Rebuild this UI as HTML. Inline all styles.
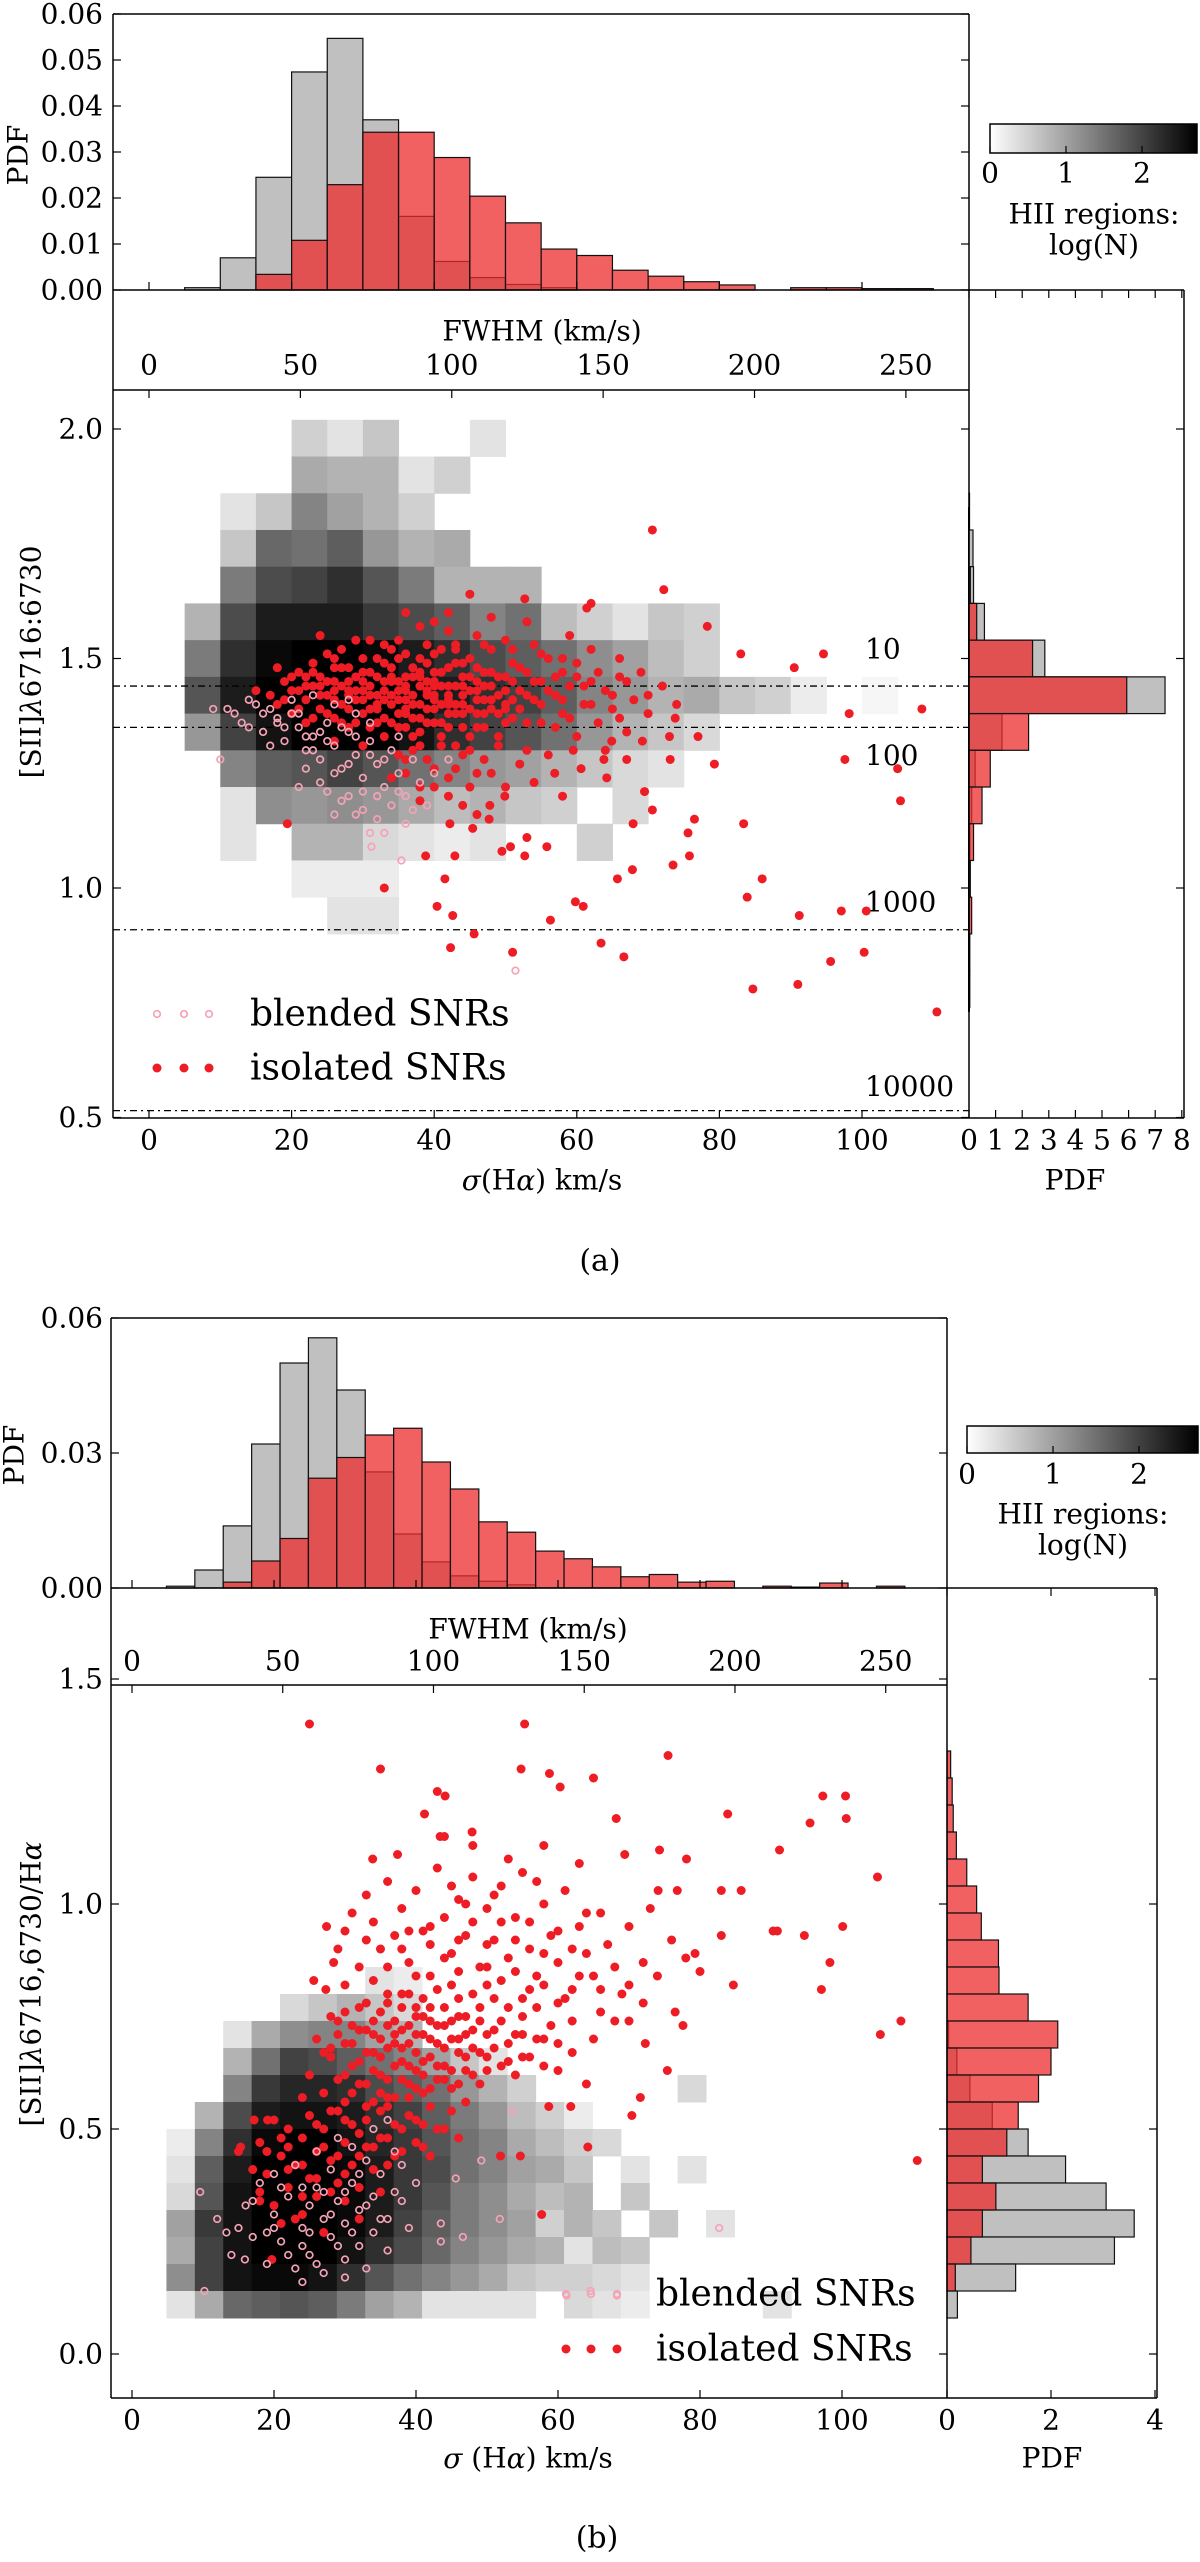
<!DOCTYPE html>
<html><head><meta charset="utf-8"><style>
html,body{margin:0;padding:0;background:#fff;}
svg text{font-family:"DejaVu Serif","Liberation Serif",serif;fill:#000;}
</style></head><body>
<svg id="fig" xmlns="http://www.w3.org/2000/svg" width="1200" height="2557" viewBox="0 0 1200 2557">
<defs><linearGradient id="cb" x1="0" x2="1" y1="0" y2="0"><stop offset="0" stop-color="#fff"/><stop offset="1" stop-color="#000"/></linearGradient></defs>
<g id="pa"></g>
<g id="pb"></g>
</svg>
<script>
// ===== Panel (a) data =====
const aTopBinStart = 5, aTopBinW = 5;
const aTopGray = [0.0005,0.007,0.0245,0.0474,0.0547,0.037,0.016,0.0062,0.0027,0.0012,0.0005,0,0,0,0,0,0,0,0,0,0];
const aTopRed  = [0,0,0.0034,0.0108,0.0229,0.0343,0.0343,0.0288,0.0204,0.0146,0.0089,0.0075,0.0043,0.003,0.0018,0.0011,0,0.0005,0.0005,0.0003,0.0003];
const aRightTop = 2.02, aRightW = 0.08;
const aRightGray = [0,0,0.02,0.15,0.17,0.58,2.85,7.37,1.24,0.23,0.1,0.03,0.02,0.01,0.01,0.01];
const aRightRed  = [0,0,0,0,0.05,0.29,2.39,5.93,2.24,0.8,0.49,0.17,0.05,0.1,0.03,0.03];
const aHeatTop = 2.02, aHeatH = 0.08, aHeatX0 = 5, aHeatW = 5;
const aHeat = [
[0,0,0,.5,.3,.6,0,0,.3,0,0,0,0,0,0,0,0,0,0,0],
[0,0,0,.9,.8,.8,.3,.5,0,0,0,0,0,0,0,0,0,0,0,0],
[0,.3,.6,1.3,1.0,.8,.5,0,0,0,0,0,0,0,0,0,0,0,0,0],
[0,.6,1.6,1.5,1.7,1.1,.8,.9,0,0,0,0,0,0,0,0,0,0,0,0],
[0,1.4,1.9,2.0,2.2,1.8,1.4,.8,.8,.8,0,0,0,0,0,0,0,0,0,0],
[.8,1.9,2.4,2.4,2.4,2.1,1.9,1.7,1.3,1.5,.7,.5,.3,.6,.5,0,0,0,0,0],
[1.4,2.2,2.6,2.7,2.7,2.6,2.4,2.2,1.9,1.7,1.5,1.2,1.0,.7,.5,0,0,0,0,0],
[1.8,2.4,2.7,2.7,2.7,2.7,2.6,2.4,2.2,2.0,1.7,1.3,1.1,.8,.9,.6,.5,.2,0,.1],
[1.1,2.0,2.5,2.7,2.7,2.7,2.5,2.2,2.0,1.8,1.5,1.1,.8,.6,.4,0,0,0,0,0],
[0,1.3,1.7,1.8,2.0,1.8,1.5,1.3,1.1,1.0,.8,.6,.4,.3,0,0,0,0,0,0],
[0,.3,1.2,1.1,1.2,1.1,.9,.7,.8,.6,.5,0,.4,0,0,0,0,0,0,0],
[0,.3,0,.8,.8,.4,.3,.2,.3,0,0,.5,0,0,0,0,0,0,0,0],
[0,0,0,.2,.2,.2,0,0,0,0,0,0,0,0,0,0,0,0,0,0],
[0,0,0,0,.3,.3,0,0,0,0,0,0,0,0,0,0,0,0,0,0]];
const aLines = [1.44,1.35,0.909,0.515];
const aLineLabels = ["10","100","1000","10000"];
const aIsolatedOuter = [[70.6,1.78],[72.2,1.65],[52.7,1.63],[62,1.62],[61.4,1.61],[78.3,1.57],[83,1.51],[94.6,1.51],[90.5,1.48],[98.2,1.38],[108.4,1.39],[73.8,1.37],[73,1.33],[77,1.33],[79.3,1.27],[73.1,1.28],[97.6,1.28],[105,1.26],[105.4,1.19],[69.5,1.21],[70.6,1.17],[67.9,1.14],[76.5,1.15],[75.6,1.12],[83.4,1.14],[75.8,1.07],[73.5,1.05],[67.8,1.04],[65.7,1.02],[86,1.02],[83.9,0.98],[59.8,0.97],[60.9,0.96],[56.3,0.93],[63.4,0.88],[66.6,0.85],[91.2,0.94],[97.1,0.95],[100.6,0.95],[100.3,0.86],[95.6,0.84],[91,0.79],[84.7,0.78],[110.5,0.73],[51,0.86],[45.6,0.90],[42.3,0.87],[40.4,0.96],[42.6,0.94],[41.5,1.02],[38.8,1.07],[42.9,1.07],[33,1.0],[49.5,1.08],[52.7,1.07],[50.7,1.09],[53,1.11],[47.7,1.15],[45.4,1.13],[42.2,1.14],[19.4,1.14],[55.8,1.09],[56.9,1.25],[58,1.20],[60.6,1.26],[63.8,1.28],[54,1.23],[49.9,1.20],[47.8,1.18],[46,1.16],[59.5,1.30],[64.9,1.32],[67,1.28],[64.2,1.24],[69.2,1.32],
[17,1.42],[18,1.40],[19,1.45],[20,1.38],[21,1.47],[21,1.43],[22,1.41],[22,1.36],[23,1.49],[23,1.44],[24,1.39],[24,1.46],[25,1.42],[25,1.51],[26,1.37],[26,1.45],[27,1.40],[27,1.48],[28,1.43],[28,1.35],[29,1.46],[29,1.41],[30,1.50],[30,1.38],[31,1.44],[31,1.47],[32,1.42],[32,1.36],[33,1.49],[33,1.45],[34,1.40],[34,1.52],[35,1.43],[35,1.38],[36,1.46],[36,1.41],[37,1.48],[37,1.33],[38,1.44],[38,1.50],[39,1.39],[39,1.45],[40,1.42],[40,1.47],[41,1.36],[41,1.52],[42,1.44],[42,1.40],[43,1.49],[43,1.31],[44,1.46],[44,1.38],[45,1.43],[45,1.50],[46,1.41],[46,1.35],[47,1.47],[47,1.44],[48,1.39],[48,1.52],[49,1.42],[49,1.33],[50,1.46],[50,1.40],[51,1.49],[51,1.37],[52,1.43],[53,1.47],[53,1.30],[54,1.41],[55,1.45],[55,1.36],[56,1.50],[57,1.42],[58,1.38],[58,1.47],[59,1.44],[60,1.33],[60,1.49],[61,1.40],[62,1.45],[63,1.36],[64,1.43],[65,1.39],[66,1.46],[67,1.34],[68,1.41],[70,1.38],[72,1.44],[36,1.28],[40,1.26],[44,1.29],[48,1.25],[38,1.22],[42,1.20],[34,1.24],[30,1.31],[26,1.32],[46,1.55],[42,1.56],[38,1.57],[50,1.54],[54,1.53],[33,1.53],[29,1.54],[24,1.55],[35,1.35],[37,1.40],[39,1.42],[41,1.44],[43,1.38],[45,1.46],[31,1.39],[33,1.41],[28,1.45],[26,1.48],[57,1.35],[62,1.52],[59,1.55],[56,1.29],[52,1.27],[64,1.30],[66,1.50],[69,1.47],[45,1.22],[38,1.19],[50,1.22],[35,1.45],[40,1.39],[44,1.42],[47,1.38],[30,1.45],[36,1.51],[22,1.46],[20,1.43],[15,1.43],[18,1.48],[42,1.60],[40,1.58],[36,1.60],[45,1.64],[53,1.58],[48,1.59]];
const aIsolatedCore = [[19,1.41],[20,1.46],[21,1.39],[22,1.44],[23,1.37],[23,1.47],[24,1.42],[25,1.45],[25,1.38],[26,1.43],[26,1.50],[27,1.36],[27,1.44],[28,1.39],[28,1.48],[29,1.43],[29,1.36],[30,1.41],[30,1.47],[31,1.42],[31,1.35],[32,1.46],[32,1.39],[32,1.50],[33,1.43],[33,1.37],[34,1.45],[34,1.36],[34,1.48],[35,1.41],[35,1.50],[36,1.38],[36,1.44],[36,1.35],[37,1.42],[37,1.46],[37,1.37],[38,1.40],[38,1.47],[38,1.34],[39,1.43],[39,1.49],[39,1.36],[40,1.44],[40,1.36],[40,1.51],[41,1.40],[41,1.47],[41,1.33],[42,1.42],[42,1.48],[42,1.35],[43,1.44],[43,1.40],[43,1.53],[44,1.35],[44,1.49],[45,1.39],[45,1.33],[46,1.45],[46,1.48],[47,1.41],[47,1.35],[48,1.44],[48,1.47],[49,1.38],[49,1.46],[50,1.43],[50,1.36],[51,1.41],[51,1.45],[52,1.39],[52,1.48],[53,1.42],[53,1.36],[54,1.45],[55,1.40],[56,1.43],[57,1.46],[58,1.41],[59,1.37],[61,1.44],[63,1.47],[65,1.42],[67,1.45],[37,1.30],[39,1.28],[41,1.31],[43,1.26],[45,1.30],[47,1.28],[49,1.31],[40,1.22],[42,1.24],[44,1.18],[46,1.25],[36,1.25],[38,1.31],[35,1.29],[33,1.33],[34,1.46],[36,1.43],[38,1.46],[40,1.45],[42,1.41],[44,1.44],[46,1.43],[30,1.43],[28,1.42],[26,1.41],[24,1.44],[27,1.52],[31,1.54],[35,1.54],[39,1.53],[43,1.52],[47,1.53],[51,1.52],[55,1.51],[58,1.50],[60,1.46],[62,1.40],[66,1.37],[70,1.42],[74,1.40],[32,1.40],[34,1.42],[36,1.39],[38,1.37],[40,1.41],[42,1.38],[44,1.40],[46,1.38],[48,1.41],[50,1.39]];
const aIsolated = aIsolatedOuter.concat(aIsolatedCore);
const aBlendedMain = [[9,1.39],[11,1.39],[12,1.38],[13,1.36],[14,1.35],[15,1.40],[16,1.34],[17,1.31],[18,1.37],[19,1.32],[20,1.38],[21,1.35],[22,1.30],[23,1.33],[24,1.28],[25,1.36],[26,1.31],[27,1.26],[28,1.34],[29,1.29],[30,1.24],[31,1.32],[32,1.27],[33,1.22],[34,1.30],[35,1.25],[36,1.20],[37,1.28],[38,1.23],[39,1.18],[25,1.21],[27,1.19],[30,1.17],[32,1.15],[34,1.18],[26,1.40],[29,1.38],[23,1.42],[20,1.41],[17,1.39],[28,1.41],[31,1.36],[24,1.34],[22,1.26],[21,1.22],[26,1.16],[28,1.20],[35,1.33],[18,1.36],[10,1.28],[36,1.14],[33,1.12],[42,1.28],[40,1.25],[51.4,0.82],[31.2,1.09],[35.4,1.06]];
const aBlendedCore = [[14,1.41],[16,1.38],[19,1.35],[21,1.38],[23,1.30],[25,1.32],[27,1.35],[29,1.33],[31,1.29],[33,1.28],[26,1.25],[28,1.27],[30,1.21],[24,1.23],[22,1.33],[32,1.20],[35,1.21],[37,1.17],[29,1.16],[31,1.12]];
const aBlended = aBlendedMain.concat(aBlendedCore);
const aXTicks = [0,20,40,60,80,100];
const aYTicks = [0.5,1.0,1.5,2.0];
const aYTickLabels = ["0.5","1.0","1.5","2.0"];
const aFTicks = [0,50,100,150,200,250];
const aPTicks = [0,0.01,0.02,0.03,0.04,0.05,0.06];
const aPTickLabels = ["0.00","0.01","0.02","0.03","0.04","0.05","0.06"];
const aRTicks = [0,1,2,3,4,5,6,7,8];

// ===== Panel (b) data =====
const bTopBinStart = 4.85, bTopBinW = 4;
const bTopGray = [0.0004,0.004,0.0138,0.032,0.05,0.0556,0.044,0.0258,0.012,0.0058,0.0027,0.0015,0.0007,0,0,0,0,0,0,0,0,0,0,0,0,0];
const bTopRed  = [0,0,0.0013,0.006,0.011,0.0244,0.029,0.034,0.0355,0.028,0.022,0.0147,0.0124,0.0082,0.0065,0.0047,0.0025,0.003,0.0013,0.0015,0,0.0004,0.0002,0.0011,0,0.0004];
const bRightTop = 1.34, bRightW = 0.06;
const bRightGray = [0,0,0,0,0,0,0,0,0,0,0.03,0.19,0.44,0.87,1.56,2.28,3.06,3.6,3.22,1.32,0.2];
const bRightRed  = [0.07,0.1,0.12,0.18,0.38,0.57,0.66,0.99,1.0,1.56,2.13,2.0,1.76,1.37,1.15,0.68,0.94,0.68,0.46,0.16,0];
const bHeatTop = 0.86, bHeatH = 0.06, bHeatX0 = 4.85, bHeatW = 4;
const bHeat = [
[0,0,0,0,0,0,0,.3,.2,0,0,0,0,0,0,0,0,0,0,0,0,0],
[0,0,0,0,.4,.6,.8,.6,.4,0,0,0,0,0,0,0,0,0,0,0,0,0],
[0,0,.3,.9,1.2,1.3,1.3,1.0,.8,0,0,0,0,0,0,0,0,0,0,0,0,0],
[0,0,.8,1.5,2.0,1.9,1.7,1.5,1.3,1.0,.6,.3,0,0,0,0,0,0,0,0,0,0],
[0,0,1.3,2.1,2.3,2.3,2.2,1.9,1.7,1.5,1.1,.8,.5,0,0,0,0,0,.4,0,0,0],
[0,.8,1.9,2.4,2.5,2.5,2.4,2.2,2.0,1.7,1.4,1.1,.7,.5,.2,0,0,0,0,0,0,0],
[.2,1.3,2.2,2.6,2.7,2.7,2.5,2.3,2.1,1.8,1.5,1.3,.9,.7,.5,.4,0,0,0,0,0,0],
[.3,1.7,2.4,2.7,2.7,2.7,2.6,2.4,2.1,1.9,1.5,1.3,1.0,.9,.6,0,.3,0,.3,0,0,0],
[.4,1.8,2.5,2.7,2.7,2.7,2.6,2.4,2.1,1.8,1.4,1.2,.9,.7,.8,0,.6,0,0,0,0,0],
[1.0,2.1,2.5,2.7,2.7,2.7,2.6,2.4,2.0,1.7,1.4,1.2,1.0,.5,.8,.6,0,.6,0,.3,0,0],
[.9,2.0,2.5,2.7,2.7,2.7,2.5,2.2,1.9,1.6,1.3,1.1,.9,.8,.3,.7,.6,0,0,0,0,0],
[1.2,2.0,2.5,2.6,2.6,2.5,2.2,1.8,1.5,1.3,1.1,.9,.6,.5,.5,.4,.3,0,0,0,0,0],
[.3,.9,1.6,1.7,1.8,1.7,1.4,1.0,.8,.3,.3,.3,.3,0,.4,.3,.2,0,0,0,0,.3]];
const bIsolatedMain = [[25,1.40],[55.3,1.40],[75.5,1.33],[35,1.30],[54.8,1.30],[58.8,1.29],[65,1.28],[60.3,1.26],[43,1.25],[44.1,1.24],[97.3,1.24],[100.5,1.24],[100.6,1.19],[83.9,1.20],[68.2,1.19],[41.2,1.20],[95.5,1.18],[43.4,1.15],[47.9,1.16],[91.2,1.12],[74.3,1.12],[78.1,1.10],[69.4,1.11],[33.9,1.10],[37.4,1.11],[105,1.06],[85.8,1.03],[74.1,1.03],[76.8,1.03],[83,1.03],[90.3,0.94],[90.9,0.94],[94.7,0.93],[100.1,0.95],[83,0.93],[79.3,0.89],[98.3,0.87],[97.1,0.81],[84.7,0.82],[76.5,0.76],[108.3,0.74],[105.4,0.71],[77.6,0.73],[72.3,0.69],[75.4,0.63],[71.6,0.57],[70.4,0.53],[64.2,0.46],[110.6,0.43],[57.7,0.31],[51.9,0.44],[54.7,0.44],[58.7,0.55],[61.8,0.55],[27.4,0.95],[30,0.94],[28.4,0.87],[25.6,0.83],[27.3,0.81],[17.2,0.52],[19.1,0.52],[15.3,0.46],[15,0.45],[18,0.34],[19.7,0.21],
[31,0.98],[33,1.02],[34,0.96],[35,0.90],[36,1.05],[37,0.93],[38,0.99],[39,0.87],[40,1.03],[41,0.94],[42,0.91],[43,1.08],[44,0.97],[45,0.89],[46,1.01],[47,0.93],[48,1.06],[49,0.86],[50,0.99],[51,0.92],[52,1.04],[53,0.88],[54,0.97],[55,1.07],[56,0.90],[57,0.84],[58,1.00],[59,0.93],[60,0.87],[61,1.03],[62,0.81],[63,0.95],[64,0.89],[65,0.84],[66,0.98],[67,0.91],[68,0.86],[69,0.80],[70,0.95],[72,0.87],[73,0.99],[74,0.84],[76,0.92],[78,0.88],[80,0.85],[53,1.10],[48,1.13],[44,1.15],[58,1.13],[63,1.09],[50,0.82],[46,0.85],[42,0.84],[38,0.80],[34,0.83],[55,0.79],[60,0.78],[66,0.76],[70,0.74],[32,0.86],[30,0.82],[29,0.90],[36,0.78],[40,0.77],
[25,0.62],[26,0.70],[27,0.58],[28,0.66],[28,0.75],[29,0.61],[30,0.69],[30,0.56],[31,0.73],[31,0.64],[32,0.60],[32,0.77],[33,0.67],[33,0.55],[34,0.71],[34,0.63],[35,0.58],[35,0.76],[36,0.68],[36,0.61],[37,0.74],[37,0.57],[38,0.65],[38,0.72],[39,0.60],[39,0.69],[40,0.75],[40,0.63],[41,0.58],[41,0.71],[42,0.66],[42,0.74],[43,0.61],[43,0.69],[44,0.73],[44,0.64],[45,0.70],[45,0.59],[46,0.67],[46,0.75],[47,0.63],[47,0.71],[48,0.68],[49,0.60],[49,0.74],[50,0.66],[51,0.72],[52,0.64],[53,0.69],[54,0.62],[55,0.71],[56,0.66],[58,0.70],[60,0.63],[62,0.67],[64,0.60],[35,0.66],[37,0.69],[39,0.73],[41,0.65],[33,0.72],[29,0.71],[27,0.67],[24,0.57],
[18,0.47],[19,0.40],[20,0.52],[21,0.44],[22,0.37],[22,0.50],[23,0.42],[24,0.48],[24,0.35],[25,0.53],[26,0.45],[26,0.39],[27,0.50],[28,0.43],[28,0.36],[29,0.54],[30,0.47],[30,0.40],[31,0.51],[32,0.44],[32,0.37],[33,0.52],[34,0.46],[34,0.41],[35,0.54],[36,0.48],[36,0.42],[37,0.51],[38,0.45],[39,0.53],[40,0.47],[41,0.51],[42,0.44],[44,0.50],[20,0.33],[23,0.30],[18,0.36],[21,0.29]];
const bIsolatedCore = [[28,0.68],[29,0.74],[30,0.62],[30,0.76],[31,0.58],[31,0.69],[32,0.65],[32,0.72],[33,0.60],[33,0.78],[34,0.67],[34,0.74],[35,0.62],[35,0.70],[36,0.57],[36,0.73],[36,0.80],[37,0.64],[37,0.71],[38,0.61],[38,0.68],[38,0.77],[39,0.64],[39,0.80],[40,0.59],[40,0.67],[40,0.71],[41,0.62],[41,0.75],[41,0.79],[42,0.59],[42,0.70],[42,0.77],[43,0.64],[43,0.73],[43,0.81],[44,0.61],[44,0.68],[44,0.77],[45,0.63],[45,0.74],[45,0.82],[46,0.60],[46,0.70],[46,0.79],[47,0.66],[47,0.75],[48,0.62],[48,0.72],[48,0.80],[49,0.67],[49,0.77],[50,0.63],[50,0.71],[50,0.86],[51,0.68],[51,0.79],[52,0.74],[52,0.83],[53,0.65],[53,0.77],[54,0.71],[54,0.85],[55,0.66],[55,0.75],[56,0.81],[57,0.70],[57,0.77],[58,0.64],[58,0.82],[59,0.73],[60,0.69],[61,0.79],[62,0.74],[63,0.84],[65,0.70],[66,0.81],[68,0.74],[70,0.82],[72,0.78],[36,0.86],[38,0.90],[40,0.84],[42,0.95],[44,0.88],[46,0.92],[48,0.96],[50,0.91],[52,0.96],[54,0.92],[56,0.96],[58,0.89],[60,0.94],[62,0.90],[64,0.98],[47,1.00],[51,1.02],[57,1.05],[45,1.04],[39,0.94],[33,0.92],[22,0.46],[24,0.42],[26,0.51],[27,0.46],[28,0.54],[29,0.44],[30,0.52],[31,0.42],[32,0.49],[33,0.46],[34,0.56],[35,0.48],[36,0.55],[37,0.44],[38,0.50],[39,0.57],[40,0.52],[41,0.46],[42,0.55],[43,0.50],[45,0.54],[46,0.48],[47,0.56],[25,0.39],[21,0.48],[19,0.45],[17,0.41],[22,0.41],[26,0.35],[30,0.34],[27,0.27],[24,0.31],[32,0.30],[29,0.38],[35,0.36]];
const bIsolated = bIsolatedMain.concat(bIsolatedCore);
const bBlendedMain = [[12,0.30],[14,0.22],[16,0.33],[17,0.26],[18,0.38],[19,0.20],[20,0.31],[21,0.25],[22,0.35],[23,0.19],[23,0.42],[24,0.28],[25,0.33],[25,0.22],[26,0.37],[27,0.30],[27,0.18],[28,0.41],[28,0.26],[29,0.34],[30,0.29],[30,0.21],[31,0.38],[32,0.32],[32,0.24],[33,0.43],[34,0.35],[34,0.27],[35,0.40],[36,0.30],[36,0.23],[37,0.45],[38,0.34],[39,0.28],[40,0.38],[26,0.45],[29,0.48],[31,0.46],[34,0.50],[36,0.52],[20,0.40],[24,0.16],[30,0.17],[33,0.19],[49.2,0.43],[51.8,0.30],[82.7,0.28],[61.2,0.13],[64.6,0.14],[68.3,0.13],[9.6,0.36],[10.2,0.14],[13.3,0.27],[15.9,0.21],[45.6,0.39],[43.5,0.25],[46.6,0.26],[43.5,0.29],[53.6,0.54]];
const bBlendedCore = [[15,0.28],[17,0.34],[19,0.27],[21,0.37],[22,0.22],[24,0.37],[25,0.27],[26,0.20],[27,0.36],[28,0.31],[29,0.24],[30,0.36],[31,0.27],[32,0.40],[33,0.33],[35,0.30],[37,0.36],[38,0.42],[24,0.24],[20,0.28]];
const bBlended = bBlendedMain.concat(bBlendedCore);
const bXTicks = [0,20,40,60,80,100];
const bYTicks = [0.0,0.5,1.0,1.5];
const bYTickLabels = ["0.0","0.5","1.0","1.5"];
const bFTicks = [0,50,100,150,200,250];
const bPTicks = [0,0.03,0.06];
const bPTickLabels = ["0.00","0.03","0.06"];
const bRTicks = [0,2,4];

const NS = "http://www.w3.org/2000/svg";
function mk(parent, tag, attrs, txt){
  const e = document.createElementNS(NS, tag);
  for (const k in attrs) e.setAttribute(k, attrs[k]);
  if (txt !== undefined) e.textContent = txt;
  parent.appendChild(e);
  return e;
}
function grayOf(v){ const g = Math.round(255*(1-Math.min(v,2.7)/2.7)); return `rgb(${g},${g},${g})`; }
const RED = "rgba(236,44,44,0.75)";

function panel(root, P){
  const {sx, sy, hy, rx, L, R, RR, hTop, hBot, mTop, mBot} = P;
  const hm = mk(root,'g',{});
  
  
  P.heat.forEach((row,r)=>{
    row.forEach((v,c)=>{
      if (v<=0) return;
      const x0 = sx(P.heatX0 + c*P.heatW), x1 = sx(P.heatX0 + (c+1)*P.heatW);
      const y0 = sy(P.heatTop - r*P.heatH), y1 = sy(P.heatTop - (r+1)*P.heatH);
      const cell = mk(hm,'rect',{x:x0,y:y0,width:x1-x0+0.5,height:y1-y0+0.5,fill:grayOf(v)});
      
      
    });
  });
  if (P.lines){
    P.lines.forEach((v,i)=>{
      const ln = mk(root,'line',{x1:L,x2:R,y1:sy(v),y2:sy(v),stroke:'#000','stroke-width':1.3,'stroke-dasharray':'7,4,2,4'});
      
      
      const t = mk(root,'text',{x:865,y:sy(v)+P.lineLabelDy[i],'font-size':28,'dominant-baseline':'central'},P.lineLabels[i]);
      
      
    });
  }
  const sg = mk(root,'g',{});
  
  
  P.iso.forEach(p=>{
    const c = mk(sg,'circle',{cx:sx(p[0]),cy:sy(p[1]),r:4.5,fill:'#ee1c24'});
    
    
  });
  const bg = mk(root,'g',{});
  
  
  P.bl.forEach(p=>{
    const c = mk(bg,'circle',{cx:sx(p[0]),cy:sy(p[1]),r:3.3,fill:'none',stroke:'#f5a3b5','stroke-width':1.7});
    
    
  });
  const th = mk(root,'g',{});
  
  
  [[P.topGray,'#c0c0c0'],[P.topRed,RED]].forEach(([arr,col])=>{
    arr.forEach((v,i)=>{
      if (v<=0) return;
      const x0 = sx(P.topStart+i*P.topW), x1 = sx(P.topStart+(i+1)*P.topW);
      const b = mk(th,'rect',{x:x0,y:hy(v),width:x1-x0,height:hBot-hy(v),fill:col,stroke:'#111','stroke-width':1.2});
      
      
    });
  });
  const rh = mk(root,'g',{});
  
  
  if (P.rLine) mk(rh,'line',{x1:RR.x0,x2:RR.x0,y1:sy(P.rLine[0]),y2:sy(P.rLine[1]),stroke:'#000','stroke-width':2});
  [[P.rGray,'#c0c0c0'],[P.rRed,RED]].forEach(([arr,col])=>{
    arr.forEach((v,i)=>{
      if (v<=0) return;
      const y0 = sy(P.rTopV - i*P.rW), y1 = sy(P.rTopV-(i+1)*P.rW);
      const b = mk(rh,'rect',{x:RR.x0,y:y0,width:rx(v)-RR.x0,height:y1-y0,fill:col,stroke:'#111','stroke-width':1.2});
      
      
    });
  });
  const fr = {stroke:'#000','stroke-width':1.5,fill:'none'};
  mk(root,'line',Object.assign({x1:L,x2:L,y1:hTop,y2:mBot},fr));
  mk(root,'line',Object.assign({x1:R,x2:R,y1:hTop,y2:mBot},fr));
  mk(root,'line',Object.assign({x1:L,x2:R,y1:hTop,y2:hTop},fr));
  mk(root,'line',Object.assign({x1:L,x2:RR.x1,y1:hBot,y2:hBot},fr));
  mk(root,'line',Object.assign({x1:L,x2:R,y1:mTop,y2:mTop},fr));
  mk(root,'line',Object.assign({x1:L,x2:RR.x1,y1:mBot,y2:mBot},fr));
  mk(root,'line',Object.assign({x1:RR.x1,x2:RR.x1,y1:hBot,y2:mBot},fr));
  const tk = {stroke:'#000','stroke-width':1.2};
  P.xt.forEach(v=>{
    const x=sx(v);
    mk(root,'line',Object.assign({x1:x,x2:x,y1:mBot,y2:mBot-8},tk));
    mk(root,'line',Object.assign({x1:x,x2:x,y1:hBot,y2:hBot-8},tk));
    const t=mk(root,'text',{x:x,y:P.xtY,'font-size':28,'text-anchor':'middle','dominant-baseline':'central'},String(v));
     
  });
  P.ft.forEach(v=>{
    const x=sx(v/2.355);
    mk(root,'line',Object.assign({x1:x,x2:x,y1:mTop,y2:mTop+8},tk));
    const t=mk(root,'text',{x:x,y:P.ftY,'font-size':28,'text-anchor':'middle','dominant-baseline':'central'},String(v));
     
  });
  P.yt.forEach((v,i)=>{
    const y=sy(v);
    mk(root,'line',Object.assign({x1:L,x2:L+8,y1:y,y2:y},tk));
    mk(root,'line',Object.assign({x1:R,x2:R-8,y1:y,y2:y},tk));
    mk(root,'line',Object.assign({x1:RR.x1,x2:RR.x1-8,y1:y,y2:y},tk));
    const t=mk(root,'text',{x:103,y:y,'font-size':28,'text-anchor':'end','dominant-baseline':'central'},P.ytl[i]);
     
  });
  P.pt.forEach((v,i)=>{
    const y=hy(v);
    mk(root,'line',Object.assign({x1:L,x2:L+8,y1:y,y2:y},tk));
    mk(root,'line',Object.assign({x1:R,x2:R-8,y1:y,y2:y},tk));
    const t=mk(root,'text',{x:103,y:y,'font-size':28,'text-anchor':'end','dominant-baseline':'central'},P.ptl[i]);
     
  });
  P.rt.forEach(v=>{
    const x=rx(v);
    mk(root,'line',Object.assign({x1:x,x2:x,y1:mBot,y2:mBot-8},tk));
    mk(root,'line',Object.assign({x1:x,x2:x,y1:hBot,y2:hBot+8},tk));
    const t=mk(root,'text',{x:x,y:P.xtY,'font-size':28,'text-anchor':'middle','dominant-baseline':'central'},String(v));
     
  });
  let t;
  t=mk(root,'text',{x:P.pdfLab[0],y:P.pdfLab[1],'font-size':28,'text-anchor':'middle','dominant-baseline':'central',transform:`rotate(-90 ${P.pdfLab[0]} ${P.pdfLab[1]})`},'PDF');
   
  t=mk(root,'text',{x:P.yLab[0],y:P.yLab[1],'font-size':28,'text-anchor':'middle','dominant-baseline':'central',transform:`rotate(-90 ${P.yLab[0]} ${P.yLab[1]})`});
  t.innerHTML = P.yLabHTML;
   
  t=mk(root,'text',{x:P.fLab[0],y:P.fLab[1],'font-size':28,'text-anchor':'middle','dominant-baseline':'central'},'FWHM (km/s)');
   
  t=mk(root,'text',{x:P.xLab[0],y:P.xLab[1],'font-size':28,'text-anchor':'middle','dominant-baseline':'central'});
  t.innerHTML = P.xLabHTML;
   
  t=mk(root,'text',{x:P.rLab[0],y:P.rLab[1],'font-size':28,'text-anchor':'middle','dominant-baseline':'central'},'PDF');
   
  t=mk(root,'text',{x:P.cap[0],y:P.cap[1],'font-size':30,'text-anchor':'middle','dominant-baseline':'central'},P.capText);
   
  const cb=P.cb;
  const cbr=mk(root,'rect',{x:cb.x0,y:cb.y0,width:cb.x1-cb.x0,height:cb.y1-cb.y0,fill:'url(#cb)',stroke:'#000','stroke-width':1.5});
   
  [0,1,2].forEach(v=>{
    const x=cb.x0+v*cb.step;
    mk(root,'line',Object.assign({x1:x,x2:x,y1:cb.y1,y2:cb.y1-7},tk));
    const tt=mk(root,'text',{x:x,y:cb.ly,'font-size':28,'text-anchor':'middle','dominant-baseline':'central'},String(v));
     
  });
  t=mk(root,'text',{x:cb.tx,y:cb.t1,'font-size':28,'text-anchor':'middle','dominant-baseline':'central'},'HII regions:');
   
  t=mk(root,'text',{x:cb.tx,y:cb.t2,'font-size':28,'text-anchor':'middle','dominant-baseline':'central'},'log(N)');
   
  const lg=P.lg;
  const lgG=mk(root,'g',{});
   
  lg.mx.forEach(x=>{
    mk(lgG,'circle',{cx:x,cy:lg.y1,r:3.3,fill:'none',stroke:'#f5a3b5','stroke-width':1.7});
    mk(lgG,'circle',{cx:x,cy:lg.y2,r:4.5,fill:'#ee1c24'});
  });
  t=mk(lgG,'text',{x:lg.tx,y:lg.y1,'font-size':36,'dominant-baseline':'central'},'blended SNRs');
   
  t=mk(lgG,'text',{x:lg.tx,y:lg.y2,'font-size':36,'dominant-baseline':'central'},'isolated SNRs');
   
}

panel(document.getElementById('pa'),{
  sx:s=>149+7.13*s, sy:v=>429+(2-v)*459, hy:p=>290-p*4600, rx:p=>969+26.6*p,
  L:113, R:969, RR:{x0:969,x1:1184}, hTop:14, hBot:290, mTop:390, mBot:1118,
  heat:aHeat, heatX0:aHeatX0, heatW:aHeatW, heatTop:aHeatTop, heatH:aHeatH,
  lines:aLines, lineLabels:aLineLabels, lineLabelDy:[-37,28,-28,-24],
  iso:aIsolated, bl:aBlended,
  topGray:aTopGray, topRed:aTopRed, topStart:aTopBinStart, topW:aTopBinW,
  rGray:aRightGray, rRed:aRightRed, rTopV:aRightTop, rW:aRightW, rLine:[1.83,0.73],
  xt:aXTicks, xtY:1140, ft:aFTicks, ftY:365, yt:aYTicks, ytl:aYTickLabels,
  pt:aPTicks, ptl:aPTickLabels, rt:aRTicks,
  pdfLab:[18,155], yLab:[31,662], yLabHTML:'[SII]<tspan font-style="italic">λ</tspan>6716:6730',
  fLab:[542,331], xLab:[542,1180], xLabHTML:'<tspan font-style="italic">σ</tspan>(H<tspan font-style="italic">α</tspan>) km/s',
  rLab:[1075,1180], cap:[600,1261], capText:'(a)',
  cb:{x0:990,x1:1197,y0:124,y1:153,step:76,ly:173,tx:1094,t1:214,t2:245},
  lg:{mx:[157,184,209],y1:1014,y2:1068,tx:250}
});
panel(document.getElementById('pb'),{
  sx:s=>132+7.1*s, sy:v=>1679+(1.5-v)*450, hy:p=>1588-p*4500, rx:p=>947+52*p,
  L:111, R:947, RR:{x0:947,x1:1157}, hTop:1318, hBot:1588, mTop:1685, mBot:2398,
  heat:bHeat, heatX0:bHeatX0, heatW:bHeatW, heatTop:bHeatTop, heatH:bHeatH,
  lines:null, iso:bIsolated, bl:bBlended,
  topGray:bTopGray, topRed:bTopRed, topStart:bTopBinStart, topW:bTopBinW,
  rGray:bRightGray, rRed:bRightRed, rTopV:bRightTop, rW:bRightW, rLine:null,
  xt:bXTicks, xtY:2420, ft:bFTicks, ftY:1661, yt:bYTicks, ytl:bYTickLabels,
  pt:bPTicks, ptl:bPTickLabels, rt:bRTicks,
  pdfLab:[14,1455], yLab:[31,1984], yLabHTML:'[SII]<tspan font-style="italic">λ</tspan>6716,6730/H<tspan font-style="italic">α</tspan>',
  fLab:[528,1629], xLab:[528,2458], xLabHTML:'<tspan font-style="italic">σ</tspan> (H<tspan font-style="italic">α</tspan>) km/s',
  rLab:[1052,2458], cap:[597,2538], capText:'(b)',
  cb:{x0:967,x1:1198,y0:1426,y1:1453,step:86,ly:1474,tx:1083,t1:1514,t2:1545},
  lg:{mx:[566,591,617],y1:2294,y2:2349,tx:656}
});
</script>
</body></html>
